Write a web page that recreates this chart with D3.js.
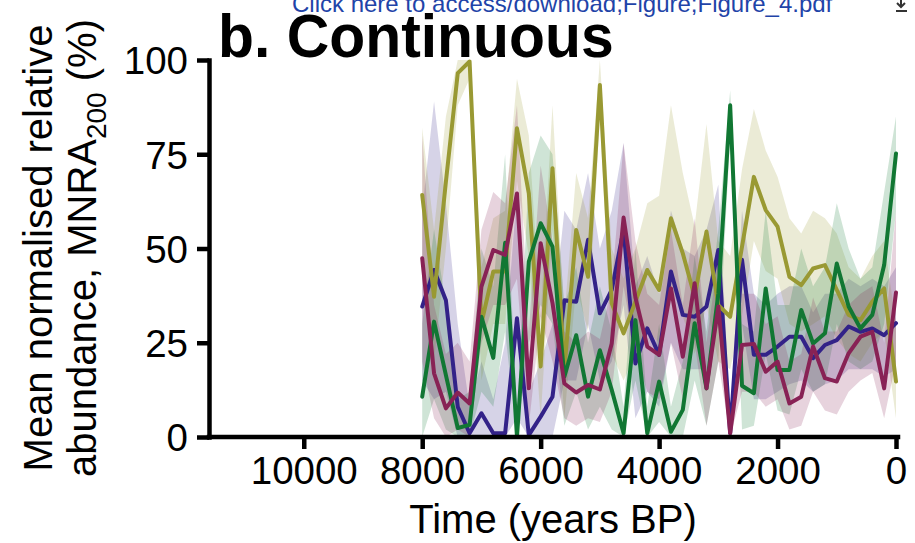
<!DOCTYPE html>
<html>
<head>
<meta charset="utf-8">
<script src="https://cdn.jsdelivr.net/npm/d3@7"></script>
<style>
  html, body { margin: 0; padding: 0; background: #ffffff; }
  svg { display: block; font-family: "Liberation Sans", Arial, Helvetica, sans-serif; }
</style>
</head>
<body>
<svg id="chart" width="915" height="543"></svg>
<script>
// Time steps (years BP), every 200 years from 8000 to 0
const years = d3.range(8000, -1, -200);

const xTicks = [10000, 8000, 6000, 4000, 2000, 0];
const yTicks = [0, 25, 50, 75, 100];

// Mean MNRA200 (%) per group, with lower/upper ribbon bounds
const indigoMean = [34.6, 44.3, 36.3, 8, 1, 6.3, 1, 1, 31.5, 0.5, 5.4, 10.7, 36.3, 35.9, 52.3, 32.8, 39, 55, 19.5, 28.8, 21.8, 43.9, 32.4, 31.9, 34.6, 49.6, 1, 47, 21.8, 21.8, 24, 26.6, 26.6, 20.9, 24.4, 25.7, 29.3, 27.9, 28.8, 27, 30.2];
const indigoUpper = [60, 89, 62, 30, 8, 20, 10, 25, 65, 12, 20, 30, 60, 55, 70, 50, 60, 78, 40, 48, 38, 60, 50, 48, 55, 67, 5, 60, 38, 35, 38, 40, 40, 33, 38, 38, 42, 40, 42, 40, 45];
const indigoLower = [15, 10, 12, 0, 0, 0, 0, 0, 5, 0, 0, 0, 15, 15, 30, 15, 20, 35, 5, 12, 8, 25, 18, 18, 18, 30, 0, 30, 10, 10, 12, 14, 15, 12, 14, 15, 18, 18, 18, 16, 18];

const greenMean = [10.7, 30.6, 16.4, 2.4, 3.2, 31.9, 21, 51.5, 0, 46.5, 56.7, 50.5, 16, 27, 10.7, 23, 12.5, 1, 31, 1, 14.7, 1.4, 7.2, 30.2, 12.9, 38, 88, 13.6, 11.6, 39.4, 17.8, 17.8, 33.7, 24.8, 27.5, 46, 34.6, 28.8, 32.4, 45.6, 75.2];
const greenUpper = [30, 55, 35, 10, 12, 50, 40, 75, 5, 70, 80, 75, 35, 45, 25, 40, 28, 8, 50, 8, 30, 8, 20, 48, 28, 55, 92, 30, 28, 60, 35, 35, 50, 40, 45, 62, 50, 42, 45, 65, 85];
const greenLower = [0, 10, 2, 0, 0, 12, 8, 28, 0, 25, 35, 30, 3, 12, 2, 8, 2, 0, 15, 0, 4, 0, 0, 15, 3, 20, 80, 2, 3, 22, 7, 6, 18, 12, 14, 30, 20, 18, 20, 30, 60];

const wineMean = [47.4, 16.9, 7.6, 11.8, 8.9, 39.9, 49.6, 48.3, 64.6, 12.9, 51.4, 35.5, 14.2, 11.8, 13.8, 12.6, 24.8, 58.2, 37, 24, 21.8, 39.4, 21.3, 40.8, 12.9, 34.6, 1, 24.4, 24.7, 17.3, 20, 8.9, 10.7, 24, 15.6, 14.7, 22.2, 26.6, 27.9, 12.9, 38.3];
const wineUpper = [80, 35, 22, 25, 20, 55, 65, 62, 88, 28, 72, 52, 28, 25, 28, 26, 40, 78, 52, 38, 35, 55, 35, 58, 25, 48, 5, 38, 38, 30, 32, 20, 22, 37, 28, 28, 35, 38, 40, 25, 60];
const wineLower = [20, 5, 0, 2, 0, 25, 35, 35, 42, 3, 32, 20, 5, 3, 5, 4, 12, 40, 22, 12, 10, 25, 10, 25, 3, 20, 0, 12, 12, 8, 10, 2, 3, 12, 7, 6, 12, 15, 17, 5, 20];

const oliveMean = [64.2, 37.2, 67.7, 96.5, 99.6, 30.2, 43.9, 43.9, 81.9, 64.6, 18.7, 71.3, 17.8, 54.9, 42.5, 93.4, 35.5, 27.5, 35.9, 44.3, 39, 58, 48.7, 37.2, 54.5, 35, 31.9, 50.5, 69, 60.2, 55.8, 42.5, 40.3, 44.7, 45.6, 39, 32.4, 31, 35.9, 39.4, 14.7];
const oliveUpper = [82, 55, 85, 100, 100, 45, 58, 60, 95, 80, 32, 88, 32, 70, 58, 100, 50, 42, 50, 62, 64, 88, 70, 56, 83, 52, 48, 71, 87, 76, 69, 58, 54, 60, 58, 54, 45, 42, 48, 52, 30];
const oliveLower = [45, 20, 50, 88, 95, 15, 30, 30, 68, 48, 5, 55, 5, 40, 28, 85, 22, 15, 22, 28, 25, 40, 32, 22, 35, 20, 18, 32, 52, 44, 42, 30, 28, 30, 32, 26, 22, 20, 25, 28, 5];

const seriesColors = {
  indigo: "#332288",
  green: "#117733",
  wine: "#882255",
  olive: "#999933"
};

const series = [
  { key: "indigo", mean: indigoMean, lo: indigoLower, hi: indigoUpper },
  { key: "olive", mean: oliveMean, lo: oliveLower, hi: oliveUpper },
  { key: "green", mean: greenMean, lo: greenLower, hi: greenUpper },
  { key: "wine", mean: wineMean, lo: wineLower, hi: wineUpper }
];

const svg = d3.select("#chart");

const x = d3.scaleLinear().domain([11600, 0]).range([209, 896]);
const y = d3.scaleLinear().domain([0, 100]).range([437, 60]);

// Download banner, partly above the page edge
svg.append("text")
  .attr("x", 292).attr("y", 12)
  .attr("font-size", 24)
  .attr("fill", "#1f44a8")
  .text("Click here to access/download;Figure;Figure_4.pdf");
// download icon: arrow over a bar
svg.append("path")
  .attr("d", "M901,0 V6 M897,3 L901,7 L905,3 M896,11 H907")
  .attr("fill", "none")
  .attr("stroke", "#333")
  .attr("stroke-width", 2);

// Ribbons
const area = d3.area()
  .x((d, i) => x(years[i]))
  .y0(d => y(d[0]))
  .y1(d => y(d[1]));

series.forEach(s => {
  const pts = years.map((t, i) => [s.lo[i], s.hi[i]]);
  svg.append("path")
    .attr("d", area(pts))
    .attr("fill", seriesColors[s.key])
    .attr("fill-opacity", 0.2)
    .attr("stroke", "none");
});

// Mean lines
const line = d3.line()
  .x((d, i) => x(years[i]))
  .y(d => y(d));

series.forEach(s => {
  svg.append("path")
    .attr("d", line(s.mean))
    .attr("fill", "none")
    .attr("stroke", seriesColors[s.key])
    .attr("stroke-width", 4)
    .attr("stroke-linejoin", "round")
    .attr("stroke-linecap", "round");
});

// Axes
const xAxis = svg.append("g")
  .attr("transform", "translate(0,437)")
  .call(d3.axisBottom(x).tickValues(xTicks).tickFormat(d3.format("d"))
    .tickSize(12).tickPadding(8).tickSizeOuter(0));
const yAxis = svg.append("g")
  .attr("transform", "translate(209,0)")
  .call(d3.axisLeft(y).tickValues(yTicks).tickFormat(d3.format("d"))
    .tickSize(12).tickPadding(9).tickSizeOuter(0));

[xAxis, yAxis].forEach(g => {
  g.select(".domain").attr("stroke", "#000").attr("stroke-width", 4.5).attr("stroke-linecap", "square");
  g.selectAll(".tick line").attr("stroke", "#000").attr("stroke-width", 4.5);
  g.selectAll(".tick text")
    .attr("fill", "#000")
    .attr("font-size", 38.5)
    .attr("font-family", "Liberation Sans, Arial, sans-serif");
});
xAxis.select(".domain").attr("d", `M${x(11600)},0H${x(0) + 2}`);
yAxis.selectAll(".tick text").attr("dy", "0.36em");

// Axis titles
svg.append("text")
  .attr("x", 553).attr("y", 533)
  .attr("text-anchor", "middle")
  .attr("font-size", 40)
  .text("Time (years BP)");

const yTitle = svg.append("text")
  .attr("transform", "translate(0,248) rotate(-90)")
  .attr("text-anchor", "middle")
  .attr("font-size", 40);
yTitle.append("tspan")
  .attr("x", 0).attr("y", 52)
  .text("Mean normalised relative");
const l2 = yTitle.append("tspan")
  .attr("x", 0).attr("y", 96)
  .text("abundance, MNRA");
l2.append("tspan").attr("font-size", 28).attr("dy", 10).text("200");
l2.append("tspan").attr("dy", -10).text(" (%)");

// Panel title
svg.append("text")
  .attr("x", 218).attr("y", 57)
  .attr("font-size", 62)
  .attr("font-weight", "bold")
  .attr("transform", "translate(218,0) scale(0.95,1) translate(-218,0)")
  .text("b. Continuous");
</script>
</body>
</html>
